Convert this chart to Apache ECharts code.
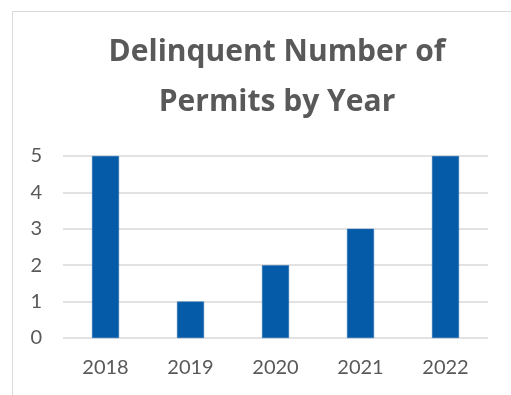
<!DOCTYPE html>
<html>
<head>
<meta charset="utf-8">
<script src="https://cdn.jsdelivr.net/npm/echarts@6/dist/echarts.min.js"></script>
<style>
  html, body { margin: 0; padding: 0; background: #fff; }
  #chart { width: 511px; height: 395px; }
</style>
</head>
<body>
<div id="chart"></div>
<script>
// Yearly counts of delinquent permits
const years = ['2018', '2019', '2020', '2021', '2022'];
const delinquentCounts = [5, 1, 2, 3, 5];
const yTicks = [0, 1, 2, 3, 4, 5];

const chart = echarts.init(document.getElementById('chart'));
chart.setOption({
  animation: false,
  title: {
    text: 'Delinquent Number of\nPermits by Year',
    left: 272,
    textAlign: 'center',
    top: 22,
    textStyle: {
      fontFamily: 'Open Sans',
      fontWeight: 'bold',
      fontSize: 30,
      lineHeight: 50,
      color: '#595959'
    }
  },
  graphic: [{
    type: 'rect',
    shape: { x: 12.5, y: 11.5, width: 700, height: 600 },
    style: { fill: 'none', stroke: '#d9d9d9', lineWidth: 1 },
    silent: true
  }],
  grid: { left: 63, right: 23, top: 156, bottom: 57 },
  xAxis: {
    type: 'category',
    data: years,
    axisLine: { show: false },
    axisTick: { show: false },
    axisLabel: {
      margin: 20,
      fontFamily: 'Lato',
      fontSize: 20,
      color: '#595959'
    }
  },
  yAxis: {
    type: 'value',
    min: yTicks[0],
    max: yTicks[yTicks.length - 1],
    interval: 1,
    axisLine: { show: false },
    axisTick: { show: false },
    axisLabel: {
      margin: 21,
      fontFamily: 'Lato',
      fontSize: 20,
      color: '#595959'
    },
    splitLine: { lineStyle: { color: '#d9d9d9', width: 1.5 } }
  },
  series: [{
    type: 'bar',
    data: delinquentCounts,
    barWidth: 27,
    itemStyle: { color: '#055BA7', borderColor: '#2a6fb3', borderWidth: 0.5 }
  }]
});
</script>
</body>
</html>
